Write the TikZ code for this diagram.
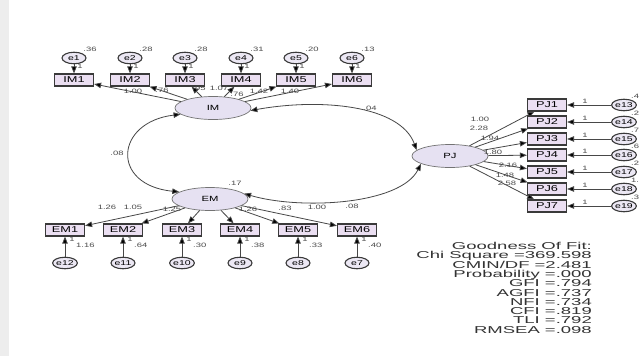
\documentclass[tikz,border=0pt]{standalone}
\usepackage{fontspec}
\setmainfont{Liberation Sans}[FakeStretch=1.5]
\newfontfamily\fitfont{Liberation Sans}[FakeStretch=1.85]
\usetikzlibrary{arrows.meta,shapes.geometric}

\newcommand\fsz[1]{\fontsize{#1}{#1}\selectfont}

\definecolor{boxfill}{HTML}{EBDFF2}
\definecolor{latfill}{HTML}{E6E1F2}
\definecolor{errfill}{HTML}{ECE8F4}
\definecolor{edgecol}{HTML}{3A3A3A}
\definecolor{numtxt}{HTML}{4A4A4A}
\definecolor{fittxt}{HTML}{333333}

\tikzset{
  obs/.style={rectangle, draw=edgecol, line width=1.2pt, fill=boxfill,
    minimum width=39pt, minimum height=12pt, inner sep=0pt, font=\fsz{8.5}},
  lat/.style={ellipse, draw=black!55, line width=0.7pt, fill=latfill,
    minimum width=76pt, minimum height=23pt, inner sep=0pt, font=\fsz{7.5}},
  err/.style={ellipse, draw=edgecol, line width=1.1pt, fill=errfill,
    minimum width=24pt, minimum height=11.5pt, inner sep=0pt, font=\fsz{7}},
  tip/.tip={Triangle[length=7pt,width=5.5pt,fill=black]},
  loadarrow/.style={draw=black!72, line width=0.8pt, -tip},
  covarrow/.style={draw=black!72, line width=0.8pt, tip-tip},
  num/.style={font=\fsz{6.3}, text=numtxt, inner sep=0pt},
  fitline/.style={font=\fitfont\fsz{10}, text=fittxt, inner sep=0pt, anchor=base east},
}

\begin{document}
\begin{tikzpicture}[x=1pt,y=-1pt]
\useasboundingbox (0,0) rectangle (640,356);
\fill[white] (0,0) rectangle (640,356);
\fill[black!7] (0,0) rectangle (9,356);

% latent factors
\node[lat] (IM) at (213,108) {IM};
\node[lat] (EM) at (210,199) {EM};
\node[lat] (PJ) at (450,156) {PJ};

% IM indicators with their error terms
\foreach \i/\x/\v in {1/74/.36, 2/130/.28, 3/185/.28, 4/241/.31, 5/296/.20, 6/352/.13} {
  \node[obs] (IM\i) at (\x,80) {IM\i};
  \node[err] (e\i) at (\x,58) {e\i};
  \draw[loadarrow] (e\i) -- (IM\i);
  \node[num] at (\x+6,66) {1};
  \node[num] at (\x+16,49) {\v};
  \draw[loadarrow] (IM) -- (IM\i);
}

% EM indicators with their error terms
\foreach \i/\x/\e/\v in {1/65/12/1.16, 2/123/11/.64, 3/182/10/.30, 4/240/9/.38, 5/298/8/.33, 6/357/7/.40} {
  \node[obs] (EM\i) at (\x,230) {EM\i};
  \node[err] (e\e) at (\x,263) {e\e};
  \draw[loadarrow] (e\e) -- (EM\i);
  \node[num] at (\x+7,239) {1};
  \node[num, anchor=west] at (\x+11,245) {\v};
  \draw[loadarrow] (EM) -- (EM\i);
}

% PJ indicators with their error terms
\foreach \i/\y/\e/\v in {1/105/13/.4, 2/122/14/.2, 3/139/15/.7, 4/155/16/.6, 5/172/17/.2, 6/189/18/1., 7/206/19/.3} {
  \node[obs] (PJ\i) at (547,\y) {PJ\i};
  \node[err] (e\e) at (624,\y) {e\e};
  \draw[loadarrow] (e\e) -- (PJ\i);
  \node[num] at (585,\y-4) {1};
  \node[num, anchor=west] at (631,\y-9) {\v};
  \draw[loadarrow] (PJ) -- (PJ\i);
}

% covariances between factors
\draw[covarrow] (IM.191) .. controls (115,122) and (110,185) .. (EM.167);
\draw[covarrow] (IM.356) .. controls (320,98) and (400,105) .. (PJ.170);
\draw[covarrow] (EM.9) .. controls (300,210) and (400,205) .. (PJ.195);
\node[num] at (117,153) {.08};
\node[num] at (370,108) {.04};
\node[num] at (352,206) {.08};

% IM loadings and variance
\node[num] at (133,91) {1.00};
\node[num] at (162,90) {.76};
\node[num] at (199,88) {.95};
\node[num] at (219,88) {1.07};
\node[num] at (237,94) {.76};
\node[num] at (259,91) {1.42};
\node[num] at (290,91) {1.40};

% EM loadings and variance
\node[num] at (235,183) {.17};
\node[num] at (107,207) {1.26};
\node[num] at (133,207) {1.05};
\node[num] at (172,209) {1.25};
\node[num] at (248,209) {1.26};
\node[num] at (285,208) {.83};
\node[num] at (317,207) {1.00};

% PJ loadings
\node[num] at (480,119) {1.00};
\node[num] at (479,128) {2.28};
\node[num] at (490,138) {1.94};
\node[num] at (493,152) {1.80};
\node[num] at (508,165) {2.16};
\node[num] at (505,175) {1.48};
\node[num] at (507,183) {2.58};

% fit statistics
\foreach \t [count=\k from 0] in {Goodness Of Fit:, Chi Square =369.598, CMIN/DF =2.481,
    Probability =.000, GFI =.794, AGFI =.737, NFI =.734, CFI =.819, TLI =.792, RMSEA =.098} {
  \node[fitline] at (592,249.5+9.3*\k) {\t};
}
\end{tikzpicture}
\end{document}
